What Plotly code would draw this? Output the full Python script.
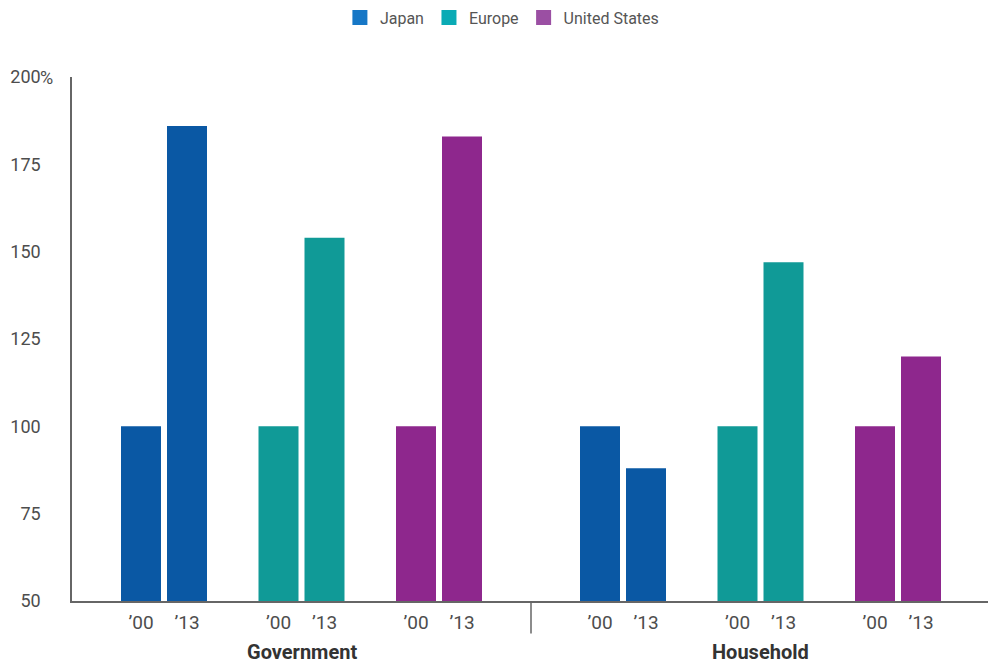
import plotly.graph_objects as go

sections = ["Government", "Household"]
regions = ["Japan", "Europe", "United States"]
years = ["\u201900", "\u201913"]
values = {
    "Government": {"Japan": [100, 186], "Europe": [100, 154], "United States": [100, 183]},
    "Household": {"Japan": [100, 88], "Europe": [100, 147], "United States": [100, 120]},
}
bar_colors = {"Japan": "#0A58A4", "Europe": "#109A97", "United States": "#8E278D"}
legend_colors = {"Japan": "#1677C6", "Europe": "#0AABB5", "United States": "#9B4FA3"}
y_ticks = [50, 75, 100, 125, 150, 175, 200]

FONT = "Roboto, sans-serif"
GREY = "#4d4d4d"

# layout spacing in bar-width units
start, sec_gap, grp_gap, yr_gap = 1.725, 11.475, 3.4375, 1.15

fig = go.Figure()
tickvals, ticktext = [], []
sec_centers = []
for s, sec in enumerate(sections):
    xs_sec = []
    for g, reg in enumerate(regions):
        xs = [start + s * sec_gap + g * grp_gap + k * yr_gap for k in range(len(years))]
        xs_sec += xs
        fig.add_trace(go.Bar(x=xs, y=values[sec][reg], width=1.0,
                             marker=dict(color=bar_colors[reg], line=dict(width=0)),
                             showlegend=False, hoverinfo="y"))
        tickvals += xs
        ticktext += years
    sec_centers.append((min(xs_sec) + max(xs_sec)) / 2)

for reg in regions:
    fig.add_trace(go.Scatter(x=[None], y=[None], name=reg, mode="markers",
                             marker=dict(color=legend_colors[reg], symbol="square", size=15),
                             showlegend=True))

xmax = 22.9
last_gov = start + 2 * grp_gap + yr_gap
first_house = start + sec_gap
sep_x = (last_gov + first_house) / 2

fig.add_shape(type="line", xref="x", yref="paper", x0=sep_x, x1=sep_x, y0=0, y1=-0.062,
              line=dict(color="#666666", width=1.5))

for sec, cx in zip(sections, sec_centers):
    fig.add_annotation(x=cx, xref="x", y=-0.097, yref="paper", yanchor="middle",
                       text="<b>%s</b>" % sec, showarrow=False,
                       font=dict(family=FONT, size=20, color="#333333"))

fig.add_annotation(x=-0.0295, xref="paper", y=200, yref="y", text="%",
                   showarrow=False, xanchor="left", xshift=-7,
                   font=dict(family=FONT, size=18, color=GREY))

fig.update_layout(
    width=988, height=665,
    margin=dict(l=72, r=0, t=77, b=64),
    plot_bgcolor="white", paper_bgcolor="white",
    font=dict(family=FONT, color=GREY),
    legend=dict(orientation="h", x=0.508, xref="container", xanchor="center", y=0.999, yref="container",
                yanchor="top", font=dict(family=FONT, size=16, color="#555555"),
                itemwidth=30, traceorder="normal"),
    xaxis=dict(range=[0, xmax], tickvals=tickvals, ticktext=ticktext, showgrid=False,
               zeroline=False, showline=True, linecolor="#666666", linewidth=1.5,
               ticks="", tickfont=dict(family=FONT, size=19, color=GREY), ticklabelstandoff=3),
    yaxis=dict(range=[50, 200], tickvals=y_ticks, ticktext=[str(v) for v in y_ticks],
               showgrid=False, zeroline=False, showline=True, linecolor="#666666", linewidth=1.5,
               ticks="", tickfont=dict(family=FONT, size=18, color=GREY), ticklabelstandoff=26),
)

fig.write_html("out.html")
